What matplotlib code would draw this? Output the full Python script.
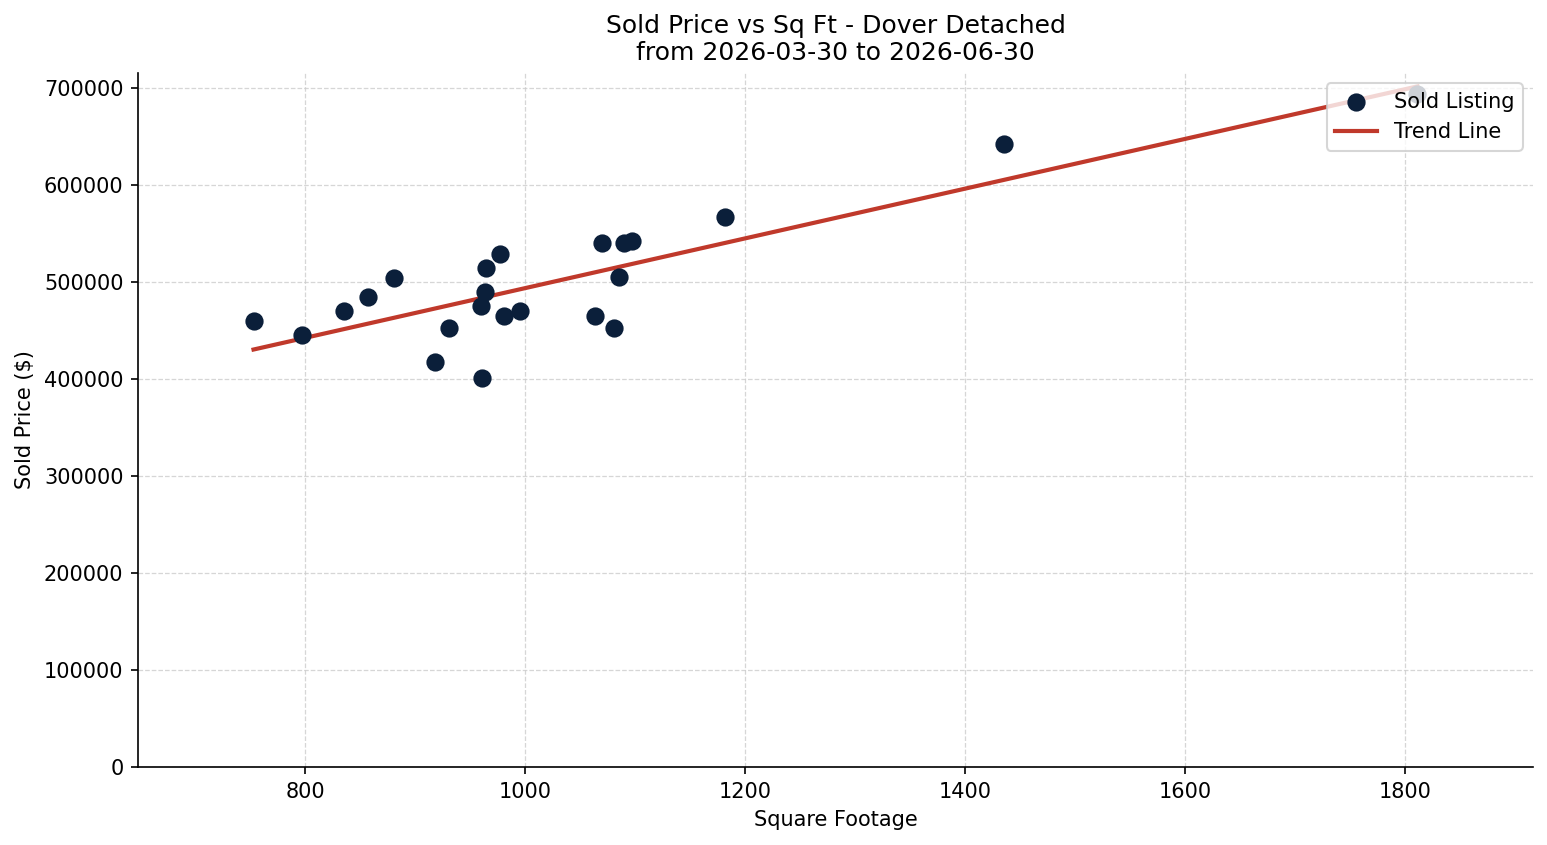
import matplotlib
matplotlib.use("Agg")
import matplotlib.pyplot as plt
import numpy as np

sqft = [753, 797, 835, 857, 881, 918, 931, 960, 963, 964, 961, 977, 981, 995,
        1063, 1070, 1081, 1085, 1090, 1097, 1182, 1435, 1811]
price = [460000, 445000, 470000, 484500, 504000, 417500, 452500, 475000, 489700,
         514400, 401000, 529000, 465000, 470000, 465000, 540000, 452500, 505000,
         540000, 542000, 567000, 642000, 693000]

x = np.array(sqft, dtype=float)
y = np.array(price, dtype=float)

fig = plt.figure(figsize=(1547/150, 845/150), dpi=150)
ax = fig.add_axes([138/1547, 1-767/845, (1533-138)/1547, (767-73)/845])

ax.scatter(x, y, s=60, color="#0b1f3a", zorder=3, label="Sold Listing")
m, b = np.polyfit(x, y, 1)
xs = np.array([x.min(), x.max()])
ax.plot(xs, m*xs + b, color="#c0392b", lw=2, zorder=2, label="Trend Line")

ax.set_xlim(648, 1916)
ax.set_ylim(0, 715000)
ax.grid(True, linestyle="--", color="#cccccc", linewidth=0.6, alpha=0.8)
ax.set_axisbelow(True)
ax.spines["top"].set_visible(False)
ax.spines["right"].set_visible(False)
ax.set_xlabel("Square Footage")
ax.set_ylabel("Sold Price ($)")
ax.set_title("Sold Price vs Sq Ft - Dover Detached\nfrom 2026-03-30 to 2026-06-30")
ax.ticklabel_format(style="plain", axis="y")
ax.legend(loc="upper right")

fig.savefig("out.png", dpi=150)
